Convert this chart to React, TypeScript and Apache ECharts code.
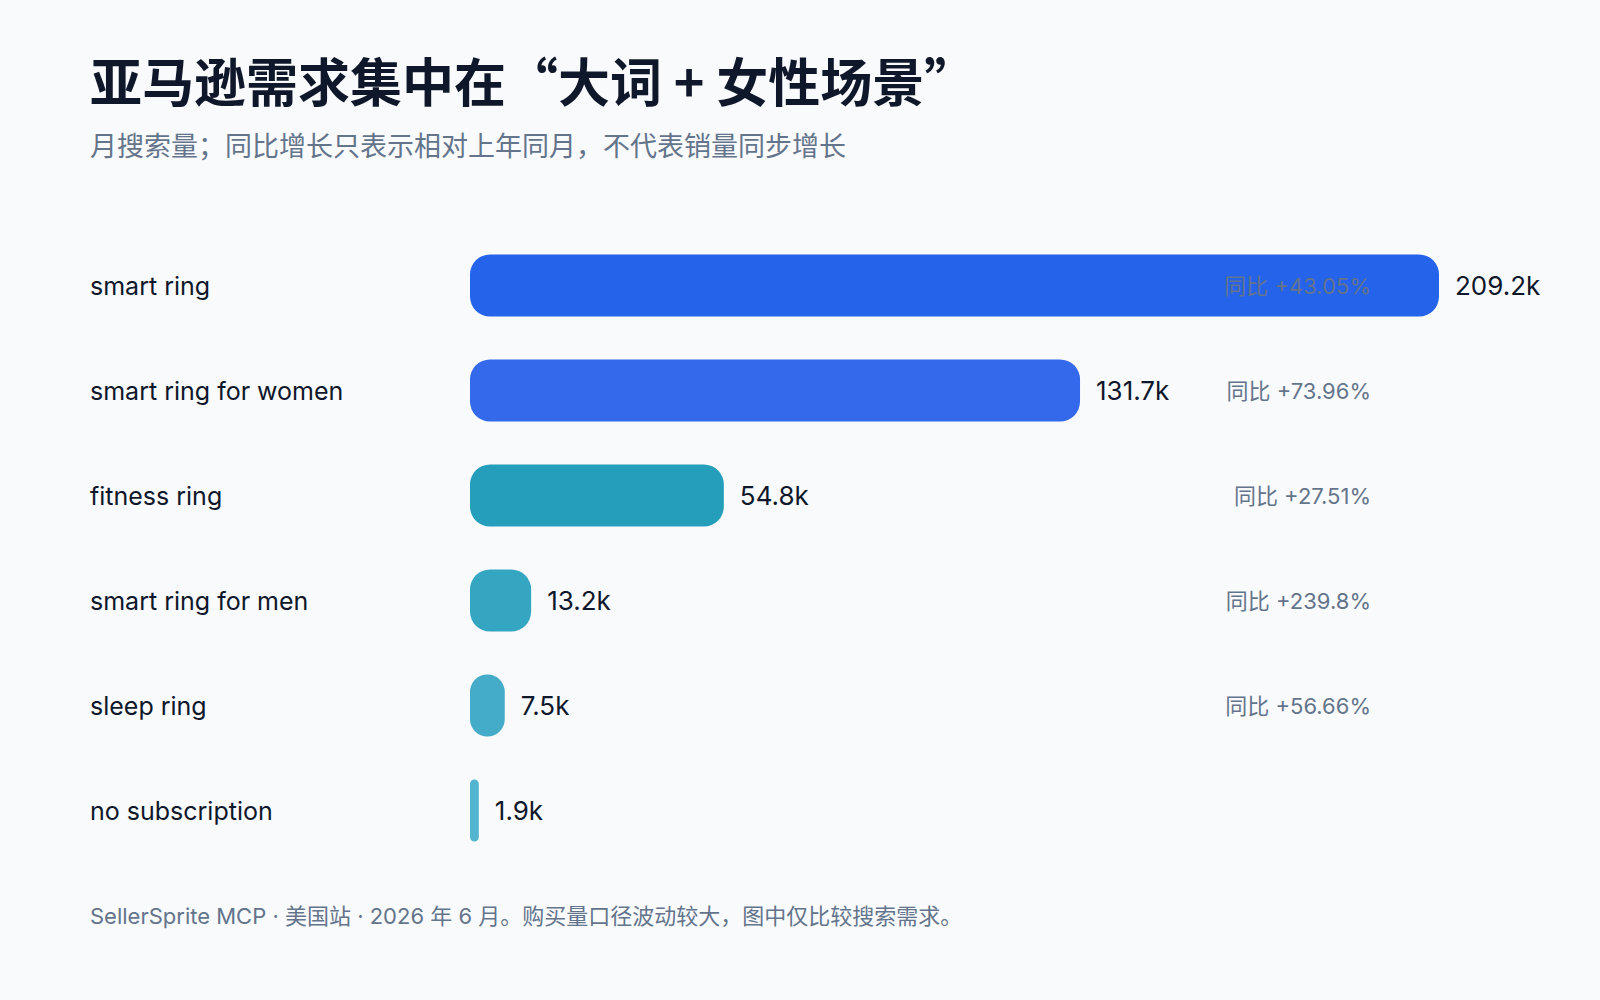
import { useEffect, useRef } from "react";
import * as echarts from "echarts";

const categories = [
  "smart ring",
  "smart ring for women",
  "fitness ring",
  "smart ring for men",
  "sleep ring",
  "no subscription",
];
// monthly search volume, thousands
const searchVolume = [209.2, 131.7, 54.8, 13.2, 7.5, 1.9];
const yoyLabels = [
  "同比 +43.05%",
  "同比 +73.96%",
  "同比 +27.51%",
  "同比 +239.8%",
  "同比 +56.66%",
  "",
];
const barColors = ["#2563EB", "#3369EA", "#259EBC", "#35A6C2", "#44ACC8", "#52B4CE"];

const FONT = "Inter, 'Noto Sans CJK SC', sans-serif";
const TITLE_FONT = "'Noto Sans CJK SC', Inter, sans-serif";

const App = () => {
  const chartRef = useRef<HTMLDivElement>(null);

  useEffect(() => {
    if (!chartRef.current) {
      return;
    }
    const chart = echarts.init(chartRef.current, null, { renderer: "svg" });

    const option: echarts.EChartsOption = {
      animation: false,
      backgroundColor: "#F8FAFC",
      title: [
        {
          text: "亚马逊需求集中在“大词 + 女性场景”",
          subtext: "月搜索量；同比增长只表示相对上年同月，不代表销量同步增长",
          left: 90,
          top: 49,
          padding: 0,
          itemGap: 17,
          textStyle: {
            color: "#0F172A",
            fontFamily: TITLE_FONT,
            fontSize: 52,
            fontWeight: "bold",
            lineHeight: 60,
          },
          subtextStyle: {
            color: "#64748B",
            fontFamily: TITLE_FONT,
            fontSize: 27,
            lineHeight: 36,
          },
        },
        {
          text: "SellerSprite MCP · 美国站 · 2026 年 6 月。购买量口径波动较大，图中仅比较搜索需求。",
          left: 90,
          top: 902,
          padding: 0,
          textStyle: {
            color: "#64748B",
            fontFamily: FONT,
            fontSize: 22,
            fontWeight: "normal",
            lineHeight: 28,
          },
        },
      ],
      grid: {
        left: 470,
        right: 161,
        top: 233,
        height: 630,
      },
      xAxis: {
        type: "value",
        min: 0,
        max: "dataMax",
        show: false,
      },
      yAxis: [
        {
          type: "category",
          data: categories,
          inverse: true,
          axisLine: { show: false },
          axisTick: { show: false },
          axisLabel: {
            align: "left",
            margin: 380,
            color: "#0F172A",
            fontFamily: FONT,
            fontSize: 25,
          },
        },
        {
          type: "category",
          data: categories,
          inverse: true,
          position: "right",
          z: 10,
          axisLine: { show: false },
          axisTick: { show: false },
          axisLabel: {
            align: "right",
            margin: -68,
            color: "#64748B",
            fontFamily: FONT,
            fontSize: 22,
            formatter: (_: string, i: number) => yoyLabels[i],
          },
        },
      ],
      series: [
        {
          type: "bar",
          data: searchVolume.map((v, i) => ({
            value: v,
            itemStyle: { color: barColors[i] },
          })),
          barWidth: 62,
          itemStyle: { borderRadius: 20 },
          label: {
            show: true,
            position: "right",
            distance: 16,
            color: "#0F172A",
            fontFamily: FONT,
            fontSize: 26,
            formatter: (p: any) => `${p.value.toFixed(1)}k`,
          },
        },
      ],
    };

    chart.setOption(option);

    return () => {
      chart.dispose();
    };
  }, []);

  return (
    <div
      ref={chartRef}
      style={{ position: "fixed", left: 0, top: 0, width: 1600, height: 1000 }}
    />
  );
};

export default App;
